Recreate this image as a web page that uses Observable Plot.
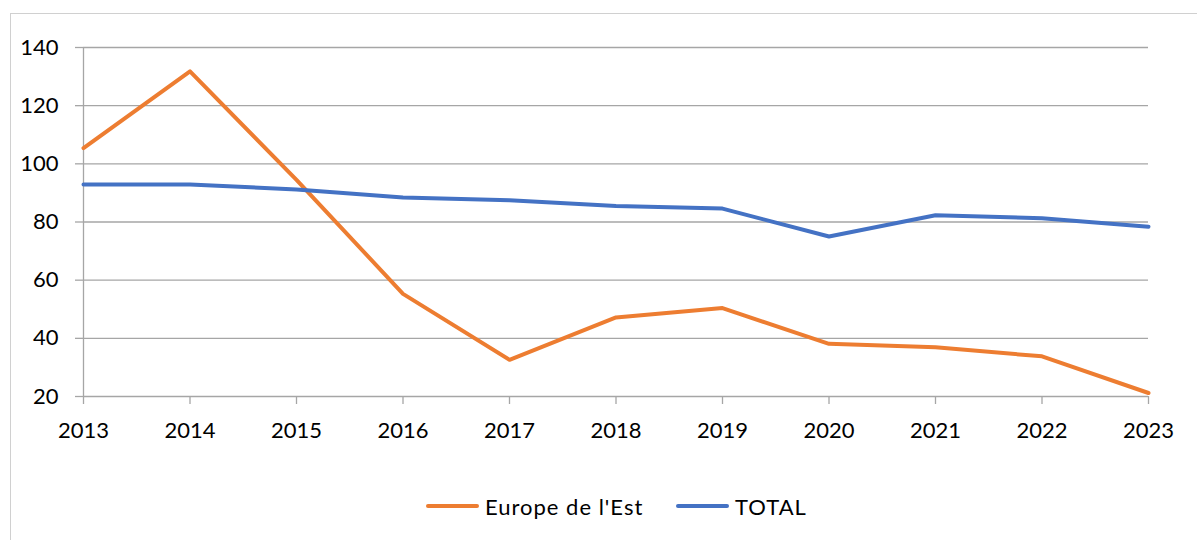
<!DOCTYPE html>
<html>
<head>
<meta charset="utf-8">
<script src="https://cdn.jsdelivr.net/npm/d3@7"></script>
<script src="https://cdn.jsdelivr.net/npm/@observablehq/plot@0.6"></script>
<style>
  html, body { margin: 0; padding: 0; background: #fff; overflow: hidden; }
  body { width: 1197px; height: 540px; position: relative; font-family: Lato, "Open Sans", sans-serif; color: #000; }
  #frame { position: absolute; left: 10px; top: 13px; width: 1300px; height: 700px; border-left: 1px solid #d0d0d0; border-top: 1px solid #d0d0d0; }
  #chart { position: absolute; left: 0; top: 0; }
  #legend { position: absolute; top: 492px; left: 0; width: 1197px; height: 28px; font-size: 22px; letter-spacing: 1px; }
  .item { position: absolute; top: 0; display: flex; align-items: center; height: 28px; }
  .swatch { width: 53px; height: 4px; border-radius: 2px; margin-right: 6px; }
</style>
</head>
<body>
<div id="frame"></div>
<div id="chart"></div>
<div id="legend"></div>
<script>
const years = [2013, 2014, 2015, 2016, 2017, 2018, 2019, 2020, 2021, 2022, 2023];
const europeEst = [105.4, 131.8, 94.5, 55.3, 32.6, 47.2, 50.4, 38.1, 36.9, 33.8, 21.2];
const total = [92.9, 92.9, 91.2, 88.4, 87.5, 85.5, 84.6, 75.0, 82.3, 81.3, 78.4];
const yTicks = [20, 40, 60, 80, 100, 120, 140];
const seriesNames = ["Europe de l'Est", "TOTAL"];
const seriesColors = ["#ED7D31", "#4472C4"];

const rows = [];
years.forEach((yr, i) => {
  rows.push({year: yr, value: europeEst[i], series: seriesNames[0]});
  rows.push({year: yr, value: total[i], series: seriesNames[1]});
});

const chart = Plot.plot({
  width: 1197,
  height: 470,
  marginLeft: 83,
  marginRight: 49,
  marginTop: 47,
  marginBottom: 74,
  style: {fontFamily: "Lato, 'Open Sans', sans-serif", color: "#000", background: "transparent", overflow: "visible"},
  x: {type: "linear", domain: [2013, 2023], ticks: years, tickFormat: d => String(d)},
  y: {domain: [20, 140], ticks: yTicks},
  color: {domain: seriesNames, range: seriesColors},
  marks: [
    Plot.ruleY(yTicks, {x1: 2013, x2: 2023, stroke: "#a6a6a6", strokeWidth: 1.3}),
    Plot.ruleX([2013], {y1: 20, y2: 140, stroke: "#a6a6a6", strokeWidth: 1.3}),
    Plot.axisY({ticks: yTicks, tickSize: 8, tickPadding: 17, fontSize: 22, stroke: "#a6a6a6", strokeWidth: 1.3, color: "#000", label: null}),
    Plot.axisX({ticks: years, tickSize: 8, tickPadding: 18, fontSize: 22, stroke: "#a6a6a6", strokeWidth: 1.3, label: null, tickFormat: d => String(d)}),
    Plot.line(rows, {x: "year", y: "value", stroke: "series", z: "series", strokeWidth: 4, strokeLinejoin: "round", strokeLinecap: "round"})
  ]
});
chart.querySelectorAll("text").forEach(t => t.setAttribute("fill", "#000"));
document.getElementById("chart").appendChild(chart);

const legend = document.getElementById("legend");
const lefts = [426, 676];
seriesNames.forEach((name, i) => {
  const item = document.createElement("div");
  item.className = "item";
  item.style.left = lefts[i] + "px";
  const sw = document.createElement("div");
  sw.className = "swatch";
  sw.style.background = seriesColors[i];
  const label = document.createElement("span");
  label.textContent = name;
  item.appendChild(sw);
  item.appendChild(label);
  legend.appendChild(item);
});
</script>
</body>
</html>
